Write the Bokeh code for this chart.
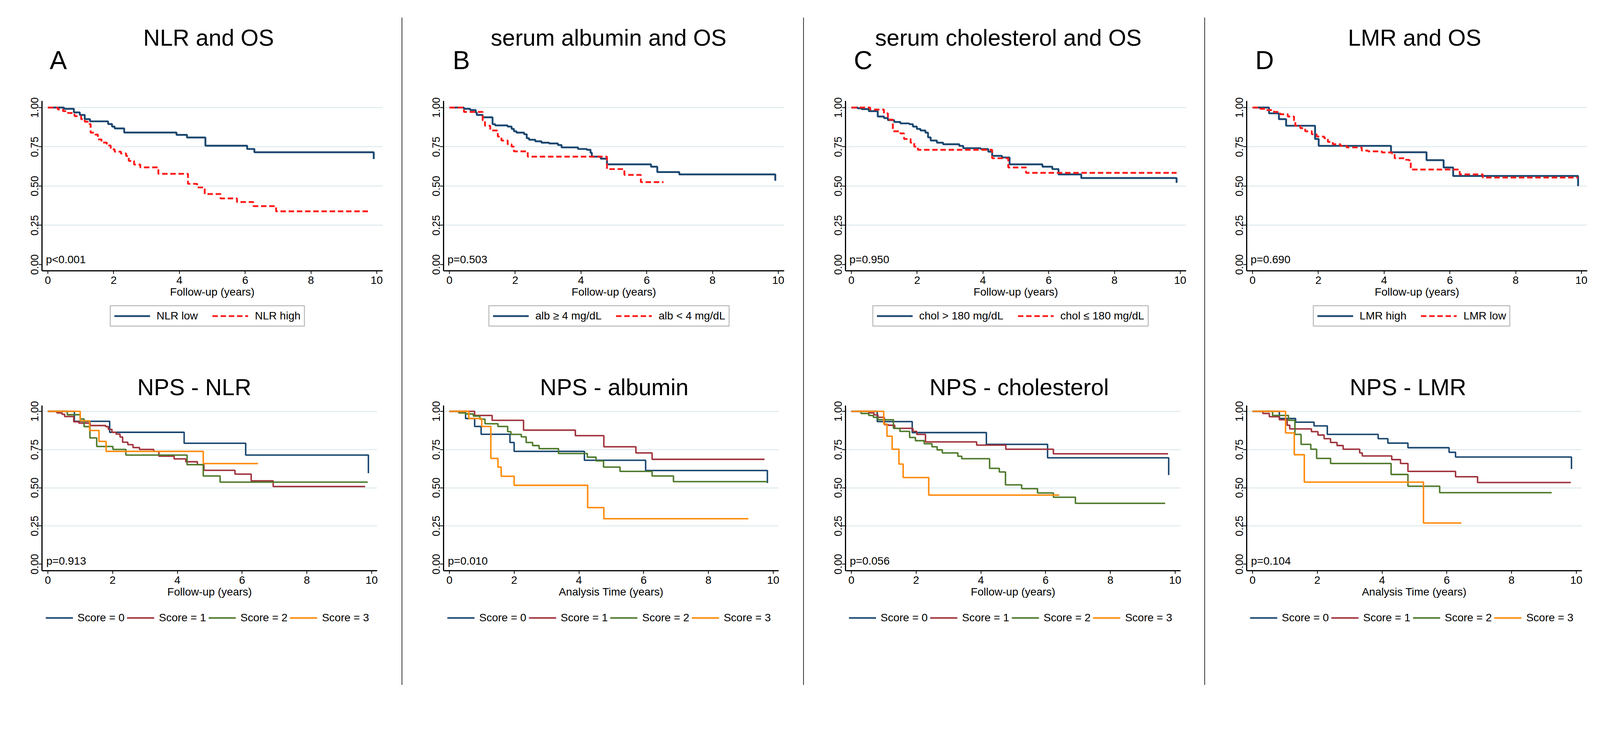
from bokeh.plotting import figure
from bokeh.models import Range1d, FixedTicker, NumeralTickFormatter, Label, Legend, LegendItem, Div
from bokeh.layouts import row, column
from bokeh.core.properties import value
from bokeh.embed import file_html
from bokeh.resources import INLINE

FONT = "Liberation Sans"

# ---------------- data (Kaplan-Meier step points: times, survival, last follow-up) -------------
# A top: NLR and OS
nlr_low_t = [0, 0.49, 0.79, 0.97, 1.12, 1.28, 1.83, 1.95, 2.03, 2.32, 3.91, 4.23, 4.79, 6.06, 6.28, 9.91]
nlr_low_s = [1, 0.992, 0.969, 0.953, 0.926, 0.912, 0.895, 0.879, 0.867, 0.841, 0.826, 0.809, 0.757, 0.736, 0.715, 0.672]
nlr_low_end = 9.91
nlr_high_t = [0, 0.30, 0.46, 0.61, 0.81, 1.01, 1.12, 1.24, 1.30, 1.44, 1.52, 1.63, 1.79, 1.91, 2.03, 2.22, 2.38,
              2.46, 2.62, 2.81, 3.36, 4.26, 4.54, 4.77, 5.25, 5.75, 6.25, 6.94]
nlr_high_s = [1, 0.988, 0.977, 0.965, 0.945, 0.926, 0.910, 0.895, 0.840, 0.828, 0.797, 0.777, 0.758, 0.734, 0.719,
              0.707, 0.691, 0.660, 0.637, 0.619, 0.578, 0.514, 0.491, 0.449, 0.421, 0.398, 0.372, 0.339]
nlr_high_end = 9.80

# B top: serum albumin and OS
alb_hi_t = [0, 0.44, 0.63, 0.80, 0.83, 1.01, 1.31, 1.39, 1.77, 1.89, 1.96, 2.04, 2.27, 2.35, 2.42, 2.61, 2.80,
            3.03, 3.30, 3.41, 3.91, 4.18, 4.29, 4.33, 4.60, 4.79, 6.13, 6.32, 6.99, 9.91]
alb_hi_s = [1, 0.992, 0.984, 0.968, 0.953, 0.938, 0.894, 0.886, 0.879, 0.864, 0.849, 0.840, 0.830, 0.805, 0.795,
            0.785, 0.776, 0.771, 0.761, 0.746, 0.736, 0.731, 0.712, 0.687, 0.674, 0.638, 0.623, 0.589, 0.574, 0.534]
alb_hi_end = 9.91
alb_lo_t = [0, 0.44, 1.01, 1.08, 1.24, 1.47, 1.58, 1.77, 1.89, 1.96, 2.38, 4.79, 5.32, 5.82]
alb_lo_s = [1, 0.972, 0.918, 0.884, 0.854, 0.815, 0.790, 0.766, 0.751, 0.721, 0.687, 0.608, 0.571, 0.525]
alb_lo_end = 6.51

# C top: serum cholesterol and OS
chol_hi_t = [0, 0.19, 0.31, 0.53, 0.80, 0.99, 1.11, 1.30, 1.49, 1.76, 1.87, 1.99, 2.10, 2.25, 2.33, 2.41, 2.60,
             2.79, 3.28, 3.40, 3.93, 4.16, 4.28, 4.58, 4.81, 5.81, 6.11, 6.30, 6.99, 9.89]
chol_hi_s = [1, 0.995, 0.990, 0.977, 0.943, 0.933, 0.920, 0.908, 0.899, 0.894, 0.879, 0.864, 0.854, 0.840, 0.810,
             0.790, 0.776, 0.766, 0.756, 0.741, 0.736, 0.719, 0.692, 0.682, 0.638, 0.623, 0.608, 0.574, 0.551, 0.520]
chol_hi_end = 9.89
chol_lo_t = [0, 0.57, 0.99, 1.11, 1.26, 1.49, 1.60, 1.80, 1.91, 2.02, 4.28, 4.77, 5.31]
chol_lo_s = [1, 0.987, 0.963, 0.923, 0.849, 0.835, 0.800, 0.776, 0.751, 0.731, 0.677, 0.618, 0.584]
chol_lo_end = 9.89

# D top: LMR and OS
lmr_hi_t = [0, 0.50, 0.80, 1.02, 1.90, 2.01, 4.21, 5.29, 5.81, 6.10, 9.90]
lmr_hi_s = [1, 0.963, 0.926, 0.884, 0.800, 0.756, 0.715, 0.665, 0.618, 0.564, 0.500]
lmr_hi_end = 9.90
lmr_lo_t = [0, 0.23, 0.42, 0.65, 0.84, 1.07, 1.26, 1.30, 1.45, 1.60, 1.80, 1.95, 2.18, 2.29, 2.44, 2.67, 2.86,
            3.32, 3.51, 3.93, 4.24, 4.32, 4.62, 4.77, 4.81, 6.30, 7.00]
lmr_lo_s = [1, 0.992, 0.984, 0.972, 0.957, 0.943, 0.918, 0.884, 0.869, 0.849, 0.830, 0.815, 0.805, 0.781, 0.766,
            0.756, 0.746, 0.726, 0.721, 0.714, 0.707, 0.677, 0.667, 0.653, 0.605, 0.574, 0.554]
lmr_lo_end = 9.90

# A bottom: NPS - NLR
nlr_sc0_t = [0, 0.82, 1.91, 4.21, 6.11, 9.90]
nlr_sc0_s = [1, 0.935, 0.863, 0.791, 0.714, 0.595]
nlr_sc0_end = 9.90
nlr_sc1_t = [0, 0.28, 0.44, 0.52, 0.80, 0.96, 1.31, 1.79, 1.87, 1.98, 2.11, 2.23, 2.31, 2.47, 2.63, 2.83, 3.27,
             3.43, 3.90, 4.26, 4.62, 4.82, 5.78, 6.28, 6.96]
nlr_sc1_s = [1, 0.990, 0.981, 0.966, 0.932, 0.923, 0.907, 0.900, 0.882, 0.863, 0.851, 0.832, 0.798, 0.782, 0.763,
             0.751, 0.738, 0.707, 0.689, 0.670, 0.651, 0.614, 0.589, 0.545, 0.508]
nlr_sc1_end = 9.80
nlr_sc2_t = [0, 0.60, 1.00, 1.12, 1.30, 1.51, 2.01, 2.41, 4.30, 4.80, 5.32]
nlr_sc2_s = [1, 0.978, 0.950, 0.900, 0.826, 0.770, 0.751, 0.714, 0.651, 0.577, 0.537]
nlr_sc2_end = 9.88
nlr_sc3_t = [0, 1.00, 1.29, 1.58, 1.80, 4.80]
nlr_sc3_s = [1, 0.938, 0.875, 0.803, 0.738, 0.658]
nlr_sc3_end = 6.49

# B bottom: NPS - albumin
alb_sc0_t = [0, 0.50, 0.78, 0.98, 1.87, 2.00, 4.17, 6.06, 9.82]
alb_sc0_s = [1, 0.953, 0.901, 0.850, 0.796, 0.738, 0.680, 0.613, 0.531]
alb_sc0_end = 9.82
alb_sc1_t = [0, 0.78, 1.32, 2.29, 3.89, 4.77, 5.76, 6.26]
alb_sc1_s = [1, 0.973, 0.941, 0.877, 0.841, 0.768, 0.728, 0.686]
alb_sc1_end = 9.73
alb_sc2_t = [0, 0.29, 0.50, 0.74, 0.94, 1.10, 1.50, 1.80, 1.90, 2.22, 2.37, 2.57, 2.77, 3.37, 4.26, 4.53, 4.76,
             5.27, 6.26, 6.92]
alb_sc2_s = [1, 0.990, 0.983, 0.969, 0.949, 0.919, 0.901, 0.867, 0.849, 0.833, 0.796, 0.776, 0.756, 0.724, 0.700,
             0.676, 0.635, 0.607, 0.577, 0.540]
alb_sc2_end = 9.82
alb_sc3_t = [0, 0.60, 1.00, 1.28, 1.50, 1.60, 2.00, 4.27, 4.77]
alb_sc3_s = [1, 0.953, 0.901, 0.692, 0.635, 0.575, 0.516, 0.370, 0.297]
alb_sc3_end = 9.23

# C bottom: NPS - cholesterol
chol_sc0_t = [0, 0.80, 1.88, 4.17, 6.06, 9.80]
chol_sc0_s = [1, 0.933, 0.861, 0.784, 0.696, 0.583]
chol_sc0_end = 9.80
chol_sc1_t = [0, 0.54, 0.70, 0.82, 1.02, 1.14, 1.34, 1.90, 2.02, 2.29, 3.87, 4.77, 6.24]
chol_sc1_s = [1, 0.990, 0.977, 0.961, 0.913, 0.909, 0.889, 0.869, 0.849, 0.800, 0.779, 0.752, 0.722]
chol_sc1_end = 9.78
chol_sc2_t = [0, 0.30, 0.54, 0.68, 0.82, 1.30, 1.50, 1.80, 1.98, 2.25, 2.49, 2.65, 2.81, 3.29, 3.41, 4.27, 4.57,
              4.76, 5.26, 5.75, 6.24, 6.92]
chol_sc2_s = [1, 0.986, 0.973, 0.961, 0.945, 0.889, 0.869, 0.829, 0.808, 0.788, 0.768, 0.748, 0.728, 0.706, 0.690,
              0.627, 0.603, 0.519, 0.494, 0.466, 0.438, 0.398]
chol_sc2_end = 9.69
chol_sc3_t = [0, 1.00, 1.10, 1.26, 1.47, 1.60, 2.39]
chol_sc3_s = [1, 0.917, 0.837, 0.752, 0.655, 0.567, 0.452]
chol_sc3_end = 6.42

# D bottom: NPS - LMR
lmr_sc0_t = [0, 0.83, 1.33, 1.90, 2.31, 3.88, 4.18, 4.80, 6.07, 6.27, 9.85]
lmr_sc0_s = [1, 0.953, 0.929, 0.905, 0.849, 0.821, 0.792, 0.762, 0.732, 0.701, 0.623]
lmr_sc0_end = 9.85
lmr_sc1_t = [0, 0.32, 0.52, 0.83, 1.07, 1.15, 1.82, 2.02, 2.21, 2.41, 2.61, 2.80, 3.31, 3.39, 4.30, 4.57, 4.80,
             6.27, 6.95]
lmr_sc1_s = [1, 0.986, 0.965, 0.945, 0.909, 0.885, 0.867, 0.845, 0.821, 0.796, 0.776, 0.752, 0.728, 0.708, 0.684,
             0.659, 0.607, 0.572, 0.534]
lmr_sc1_end = 9.83
lmr_sc2_t = [0, 0.62, 1.11, 1.31, 1.50, 1.80, 1.98, 2.41, 4.28, 4.80, 5.78]
lmr_sc2_s = [1, 0.973, 0.941, 0.849, 0.784, 0.752, 0.692, 0.659, 0.587, 0.510, 0.468]
lmr_sc2_end = 9.24
lmr_sc3_t = [0, 1.02, 1.29, 1.60, 5.28]
lmr_sc3_s = [1, 0.859, 0.716, 0.537, 0.269]
lmr_sc3_end = 6.45

x_ticks = [0, 2, 4, 6, 8, 10]
y_ticks = [0, 0.25, 0.5, 0.75, 1.0]
grid_ticks = [0.25, 0.5, 0.75, 1.0]

top_titles = ["NLR and OS", "serum albumin and OS", "serum cholesterol and OS", "LMR and OS"]
bottom_titles = ["NPS - NLR", "NPS - albumin", "NPS - cholesterol", "NPS - LMR"]
letters = ["A", "B", "C", "D"]
top_pvals = ["p<0.001", "p=0.503", "p=0.950", "p=0.690"]
bottom_pvals = ["p=0.913", "p=0.010", "p=0.056", "p=0.104"]
top_xlabels = ["Follow-up (years)"] * 4
bottom_xlabels = ["Follow-up (years)", "Analysis Time (years)", "Follow-up (years)", "Analysis Time (years)"]
top_legends = [["NLR low", "NLR high"], ["alb \u2265 4 mg/dL", "alb < 4 mg/dL"],
               ["chol > 180 mg/dL", "chol \u2264 180 mg/dL"], ["LMR high", "LMR low"]]
score_labels = ["Score = 0", "Score = 1", "Score = 2", "Score = 3"]

top_curves = [
    [(nlr_low_t, nlr_low_s, nlr_low_end), (nlr_high_t, nlr_high_s, nlr_high_end)],
    [(alb_hi_t, alb_hi_s, alb_hi_end), (alb_lo_t, alb_lo_s, alb_lo_end)],
    [(chol_hi_t, chol_hi_s, chol_hi_end), (chol_lo_t, chol_lo_s, chol_lo_end)],
    [(lmr_hi_t, lmr_hi_s, lmr_hi_end), (lmr_lo_t, lmr_lo_s, lmr_lo_end)],
]
bottom_curves = [
    [(nlr_sc0_t, nlr_sc0_s, nlr_sc0_end), (nlr_sc1_t, nlr_sc1_s, nlr_sc1_end),
     (nlr_sc2_t, nlr_sc2_s, nlr_sc2_end), (nlr_sc3_t, nlr_sc3_s, nlr_sc3_end)],
    [(alb_sc0_t, alb_sc0_s, alb_sc0_end), (alb_sc1_t, alb_sc1_s, alb_sc1_end),
     (alb_sc2_t, alb_sc2_s, alb_sc2_end), (alb_sc3_t, alb_sc3_s, alb_sc3_end)],
    [(chol_sc0_t, chol_sc0_s, chol_sc0_end), (chol_sc1_t, chol_sc1_s, chol_sc1_end),
     (chol_sc2_t, chol_sc2_s, chol_sc2_end), (chol_sc3_t, chol_sc3_s, chol_sc3_end)],
    [(lmr_sc0_t, lmr_sc0_s, lmr_sc0_end), (lmr_sc1_t, lmr_sc1_s, lmr_sc1_end),
     (lmr_sc2_t, lmr_sc2_s, lmr_sc2_end), (lmr_sc3_t, lmr_sc3_s, lmr_sc3_end)],
]

# ---------------- styles / layout ----------------
NAVY, RED = "#1a476f", "#ff1a1a"
SCORE_COLORS = ["#1a476f", "#a0333c", "#4f7a2c", "#ff8a0a"]

DPR = 1.067            # observed page-to-picture scale
def css(v):            # picture pixels -> page pixels
    return v / DPR

COL_W = [1028, 1026, 1025, 1000]
SEP_W = 2
COL_LEFT = []
_x = 8
for w in COL_W:
    COL_LEFT.append(_x)
    _x += w + SEP_W

TOP_FRAME_LEFT = [123, 1220, 2317, 3413]     # picture px
BOT_FRAME_LEFT = [111, 1209, 2304, 3399]
TOP_XR, TOP_YR = (-0.18, 10.18), (-0.040, 1.042)
BOT_XR, BOT_YR = (-0.18, 10.17), (-0.043, 1.038)
TOP_FW, TOP_FH = round(css(930)), round(css(464))
BOT_FW, BOT_FH = round(css(916)), round(css(451))

H_STRIP1, H_TOP, H_STRIP2, H_BOT, H_STRIP3 = 226, 553, 247, 519, 209
TOP_BT = 32
BOT_BT = 12
Y_STRIP1 = 8
Y_TOP = Y_STRIP1 + H_STRIP1
Y_STRIP2 = Y_TOP + H_TOP
Y_BOT = Y_STRIP2 + H_STRIP2
Y_STRIP3 = Y_BOT + H_BOT

# text centres in picture px
TOP_TITLE_CX = [561, 1653, 2744, 3843]
BOT_TITLE_CX = [551, 1699, 2807, 3868]
TOP_TITLE_CY, BOT_TITLE_CY = 112, 1066
LETTER_X = [34, 1138, 2232, 3328]
LETTER_CY = 172

TITLE_FS = "%dpx" % round(css(63))
LETTER_FS = "%dpx" % round(css(70))
TICK_FS = "%dpx" % round(css(30))
YTICK_FS = "%dpx" % round(css(28.5))
TOPLEG_FS = "%dpx" % round(css(30))
BOTLEG_FS = "%dpx" % round(css(30))

SEP_TOP, SEP_BOTTOM = 57, 1880


def steps(t, s, end):
    x, y = list(t), list(s)
    if end > t[-1]:
        x.append(end)
        y.append(s[-1])
    return x, y


def strip(width, height, bl=0, br=0):
    fw = width - bl - br
    p = figure(width=width, height=height, title=None, x_axis_type=None, y_axis_type=None,
               x_range=Range1d(0, fw), y_range=Range1d(height, 0),
               min_border_left=bl, min_border_right=br, min_border_top=0, min_border_bottom=0,
               output_backend="svg", toolbar_location=None)
    p.outline_line_color = None
    p.background_fill_color = "white"
    p.border_fill_color = "white"
    return p


def legend_proxy(p, **line_kw):
    # legend sample line kept outside the strip's visible range
    return p.line(x=[-1000, -999], y=[-1000, -1000], **line_kw)


def plot_fig(col_w, bl, fw, fh, bt, h, xr, yr):
    br = col_w - bl - fw
    bb = h - bt - fh
    p = figure(frame_width=fw, frame_height=fh,
               min_border_left=bl, min_border_right=br, min_border_top=bt, min_border_bottom=bb,
               x_range=Range1d(*xr), y_range=Range1d(*yr), title=None,
               output_backend="svg", toolbar_location=None)
    p.outline_line_color = None
    p.background_fill_color = "white"
    p.border_fill_color = "white"
    p.xgrid.visible = False
    p.ygrid.ticker = FixedTicker(ticks=grid_ticks)
    p.ygrid.grid_line_color = "#e3edf0"
    p.ygrid.grid_line_width = 3
    p.xaxis.ticker = FixedTicker(ticks=x_ticks)
    p.yaxis.ticker = FixedTicker(ticks=y_ticks)
    p.yaxis.formatter = NumeralTickFormatter(format="0.00")
    p.yaxis.major_label_orientation = "vertical"
    for ax in (p.xaxis[0], p.yaxis[0]):
        ax.axis_line_width = 3
        ax.axis_line_color = "black"
        ax.major_tick_line_width = 2
        ax.major_tick_line_color = "black"
        ax.minor_tick_line_color = None
        ax.major_tick_in = 0
        ax.major_label_text_font = FONT
        ax.major_label_text_color = "black"
    p.xaxis.major_label_text_font_size = TICK_FS
    p.yaxis.major_label_text_font_size = YTICK_FS
    p.xaxis.major_tick_out = 8
    p.xaxis.major_label_standoff = 6
    p.yaxis.major_tick_out = 9
    p.yaxis.major_label_standoff = 0
    p.xaxis.axis_label_text_font = FONT
    p.xaxis.axis_label_text_font_size = TICK_FS
    p.xaxis.axis_label_text_font_style = "normal"
    p.xaxis.axis_label_text_color = "black"
    p.xaxis.axis_label_standoff = 2
    return p, br


columns = []
for i in range(4):
    cl, cw = COL_LEFT[i], COL_W[i]

    # ---- strip 1: title + panel letter ----
    s1 = strip(cw, H_STRIP1)
    s1.text(x=[css(TOP_TITLE_CX[i]) - cl], y=[css(TOP_TITLE_CY) - Y_STRIP1], text=[top_titles[i]],
            text_align="center", text_baseline="middle", text_font=value(FONT),
            text_font_size=value(TITLE_FS), text_color="black")
    s1.text(x=[css(LETTER_X[i]) - cl], y=[css(LETTER_CY) - Y_STRIP1], text=[letters[i]],
            text_align="left", text_baseline="middle", text_font=value(FONT),
            text_font_size=value(LETTER_FS), text_color="black")

    # ---- top KM plot ----
    tbl = round(css(TOP_FRAME_LEFT[i]) - cl)
    pt, tbr = plot_fig(cw, tbl, TOP_FW, TOP_FH, TOP_BT, H_TOP, TOP_XR, TOP_YR)
    pt.xaxis.axis_label = top_xlabels[i]
    for k, (t, s, end) in enumerate(top_curves[i]):
        x, y = steps(t, s, end)
        if k == 0:
            pt.step(x, y, mode="after", line_color=NAVY, line_width=4.7)
        else:
            pt.step(x, y, mode="after", line_color=RED, line_width=4.7, line_dash="14 7")
    pt.add_layout(Label(x=TOP_XR[0] + 10 / (TOP_FW / (TOP_XR[1] - TOP_XR[0])), y=0.033, text=top_pvals[i],
                        text_align="left", text_baseline="middle", text_font=FONT,
                        text_font_size=TICK_FS, text_color="black"))

    # ---- strip 2: top legend + bottom title (frame aligned with the plot above) ----
    s2 = strip(cw, H_STRIP2, tbl, tbr)
    r1 = legend_proxy(s2, line_color=NAVY, line_width=4.7)
    r2 = legend_proxy(s2, line_color=RED, line_width=4.7, line_dash="14 7")
    leg = Legend(items=[LegendItem(label=top_legends[i][0], renderers=[r1]),
                        LegendItem(label=top_legends[i][1], renderers=[r2])],
                 orientation="horizontal", location="top_center", margin=3,
                 label_text_font=FONT, label_text_font_size=TOPLEG_FS, label_text_color="black",
                 glyph_width=92, glyph_height=26, label_height=26, label_standoff=17, spacing=37,
                 padding=9, border_line_color="#555555", border_line_width=2,
                 background_fill_color="white", background_fill_alpha=1)
    s2.add_layout(leg)
    s2.text(x=[css(BOT_TITLE_CX[i]) - cl - tbl], y=[css(BOT_TITLE_CY) - Y_STRIP2], text=[bottom_titles[i]],
            text_align="center", text_baseline="middle", text_font=value(FONT),
            text_font_size=value(TITLE_FS), text_color="black")

    # ---- bottom KM plot ----
    bbl = round(css(BOT_FRAME_LEFT[i]) - cl)
    pb, bbr = plot_fig(cw, bbl, BOT_FW, BOT_FH, BOT_BT, H_BOT, BOT_XR, BOT_YR)
    pb.xaxis.axis_label = bottom_xlabels[i]
    for k, (t, s, end) in enumerate(bottom_curves[i]):
        x, y = steps(t, s, end)
        pb.step(x, y, mode="after", line_color=SCORE_COLORS[k], line_width=3.8)
    pb.add_layout(Label(x=BOT_XR[0] + 11 / (BOT_FW / (BOT_XR[1] - BOT_XR[0])), y=0.022, text=bottom_pvals[i],
                        text_align="left", text_baseline="middle", text_font=FONT,
                        text_font_size=TICK_FS, text_color="black"))

    # ---- strip 3: score legend (frame aligned with the plot above) ----
    s3 = strip(cw, H_STRIP3, bbl, bbr)
    rs = [legend_proxy(s3, line_color=c, line_width=3.8) for c in SCORE_COLORS]
    leg3 = Legend(items=[LegendItem(label=score_labels[k], renderers=[rs[k]]) for k in range(4)],
                  orientation="horizontal", location="top_center", margin=17,
                  label_text_font=FONT, label_text_font_size=BOTLEG_FS, label_text_color="black",
                  glyph_width=70, glyph_height=26, label_height=26, label_standoff=12,
                  spacing=6, padding=4, border_line_alpha=0, background_fill_alpha=0)
    s3.add_layout(leg3)

    columns.append(column(s1, pt, s2, pb, s3))

total_h = H_STRIP1 + H_TOP + H_STRIP2 + H_BOT + H_STRIP3
sep_top = round(css(SEP_TOP)) - 8
sep_h = min(round(css(SEP_BOTTOM - SEP_TOP)), total_h - sep_top)
children = []
for i, c in enumerate(columns):
    if i > 0:
        children.append(Div(width=SEP_W, height=sep_h, margin=(sep_top, 0, 0, 0),
                            styles={"background-color": "#333333"}))
    children.append(c)

layout = row(*children)
open("out.html", "w").write(file_html(layout, INLINE))
